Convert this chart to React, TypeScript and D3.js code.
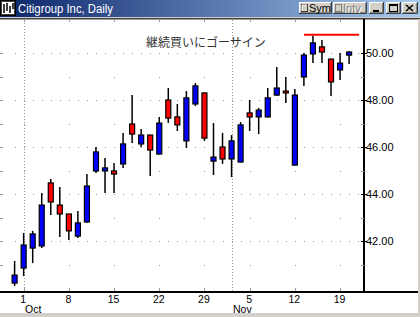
import React from "react";
import * as d3 from "d3";

const openP = [40.21, 40.85, 41.7, 41.79, 44.47, 43.53, 43.15, 42.21, 42.81, 44.98, 44.98, 44.98, 45.28, 46.98, 46.13, 46.51, 45.7, 48.0, 47.28, 46.26, 47.83, 48.3, 45.4, 46.0, 45.49, 45.36, 47.45, 47.28, 47.28, 48.21, 48.38, 45.23, 48.98, 49.96, 50.26, 49.74, 49.28, 49.91];
const highP = [41.15, 42.34, 42.43, 44.04, 44.64, 44.3, 43.15, 43.28, 44.85, 46.0, 45.53, 45.32, 46.6, 48.21, 46.77, 46.51, 47.28, 48.51, 47.83, 48.38, 48.72, 48.32, 47.02, 46.6, 46.51, 47.06, 48.0, 47.66, 48.51, 49.4, 48.98, 48.47, 50.0, 50.72, 50.55, 49.76, 50.0, 50.09];
const lowP = [40.09, 40.51, 41.06, 41.7, 43.11, 42.17, 42.04, 42.13, 42.78, 44.89, 44.04, 44.04, 45.11, 46.17, 46.0, 44.77, 45.68, 47.02, 46.68, 45.96, 47.74, 46.26, 44.81, 45.28, 44.72, 45.34, 46.68, 46.55, 47.26, 48.17, 47.87, 45.21, 48.6, 49.57, 49.57, 48.17, 48.85, 49.53];
const closeP = [40.55, 41.83, 42.3, 43.53, 43.66, 43.15, 42.43, 42.77, 44.34, 45.79, 45.11, 44.85, 46.13, 46.55, 46.51, 45.87, 47.02, 47.23, 46.94, 48.09, 48.6, 46.38, 45.57, 45.49, 46.26, 46.94, 47.28, 47.57, 48.09, 48.51, 48.3, 48.21, 49.91, 50.43, 50.04, 48.77, 49.57, 50.04];

const weekIdx = [1, 6, 11, 16, 21, 26, 31, 36];
const weekLabels = ["1", "8", "15", "22", "29", "5", "12", "19"];
const monthIdx = [1, 24];
const monthLabels = ["Oct", "Nov"];
const yTicks = [42, 44, 46, 48, 50];
const yMinor = [41, 43, 45, 47, 49];
const levelPrice = 50.78;
const levelFrom = 32;
const levelTo = 38.1;

const titleText = "Citigroup Inc, Daily";
const chartTitle = "継続買いにゴーサイン";

const W = 420;
const H = 317;
const plotTop = 19;
const plotBottom = 292;
const axisX = 364;
const FONT = "'Liberation Sans', Arial, sans-serif";

export default function App() {
  const x = d3.scaleLinear().domain([0, 37]).range([14.6, 349.1]);
  const y = d3.scaleLinear().domain([42, 50]).range([241, 53]);
  const allIdx = d3.range(0, 39);
  const gridColor = "#9a9a9a";

  const Button3D = ({ bx, by, bw, bh }: { bx: number; by: number; bw: number; bh: number }) => (
    <g>
      <rect x={bx} y={by} width={bw} height={bh} fill="#d4d0c8" />
      <path d={`M${bx + 0.5},${by + bh} V${by + 0.5} H${bx + bw}`} stroke="#ffffff" fill="none" />
      <path d={`M${bx},${by + bh - 0.5} H${bx + bw - 0.5} V${by}`} stroke="#404040" fill="none" />
      <path d={`M${bx + 1},${by + bh - 1.5} H${bx + bw - 1.5} V${by + 1}`} stroke="#808080" fill="none" />
    </g>
  );

  return (
    <svg width={W} height={H} style={{ position: "absolute", left: 0, top: 0, display: "block" }}>
      <defs>
        <linearGradient id="tb" x1="0" x2="1" y1="0" y2="0">
          <stop offset="0" stopColor="#0a246a" />
          <stop offset="1" stopColor="#a6caf0" />
        </linearGradient>
      </defs>
      <rect x={0} y={0} width={W} height={H} fill="#ffffff" />
      {/* title bar */}
      <rect x={0} y={0} width={W} height={17} fill="url(#tb)" />
      <rect x={0} y={17} width={W} height={1} fill="#d4d0c8" />
      <rect x={0} y={18} width={W} height={1.5} fill="#404040" />
      {/* icon */}
      <rect x={0.5} y={0.5} width={15} height={15} fill="#e8e8e8" stroke="#000" />
      <rect x={1.5} y={1.5} width={13} height={13} fill="#ffffff" stroke="#404040" />
      <path d="M4,4 V13 M7,3 V11 M10,6 V13 M13,3 V9" stroke="#000" strokeWidth={1.5} />
      <text x={18} y={13} fill="#ffffff" fontFamily={FONT} fontSize={12.5} textLength={95} lengthAdjust="spacingAndGlyphs">
        {titleText}
      </text>
      {/* buttons */}
      <Button3D bx={299} by={2} bw={33} bh={12} />
      <rect x={301.5} y={4.5} width={6} height={7} fill="#d4d0c8" stroke="#404040" />
      <path d="M302,11 V5 H307" stroke="#fff" fill="none" />
      <text x={309} y={12} fontFamily={FONT} fontSize={11} fill="#000">Sym</text>
      <Button3D bx={333} by={2} bw={34} bh={12} />
      <rect x={335.5} y={4.5} width={6} height={7} fill="#d4d0c8" stroke="#808080" />
      <text x={344} y={13} fontFamily={FONT} fontSize={11} fill="#ffffff">Intv</text>
      <text x={343} y={12} fontFamily={FONT} fontSize={11} fill="#808080">Intv</text>
      <Button3D bx={369} by={2} bw={15} bh={12} />
      <rect x={373} y={10} width={6} height={2} fill="#000" />
      <Button3D bx={386} by={2} bw={15} bh={12} />
      <rect x={389.5} y={4.5} width={8} height={7} fill="none" stroke="#000" />
      <rect x={389} y={4} width={9} height={2} fill="#000" />
      <Button3D bx={402} by={2} bw={16} bh={12} />
      <path d="M406,5 L413,11 M413,5 L406,11" stroke="#000" strokeWidth={1.6} />

      {/* month dotted lines */}
      {monthIdx.map((m, k) => (
        <line key={"mv" + k} x1={Math.round(x(m)) + 0.5} x2={Math.round(x(m)) + 0.5} y1={plotTop + 1} y2={plotBottom} stroke={gridColor} strokeDasharray="1,2" />
      ))}
      {/* grid rows */}
      {yTicks.map((p) =>
        allIdx.map((i) => (
          <rect key={"g" + p + "-" + i} x={Math.round(x(i))} y={Math.round(y(p))} width={1} height={1} fill={gridColor} />
        ))
      )}
      {yMinor.map((p) =>
        weekIdx.map((i) => (
          <rect key={"gm" + p + "-" + i} x={Math.round(x(i))} y={Math.round(y(p))} width={1} height={1} fill={gridColor} />
        ))
      )}
      {/* left ticks */}
      {[...yTicks, ...yMinor].map((p) => (
        <rect key={"lt" + p} x={0} y={Math.round(y(p))} width={3} height={1} fill={gridColor} />
      ))}
      {/* week ticks top/bottom */}
      {weekIdx.map((i) => (
        <g key={"wt" + i}>
          <rect x={Math.round(x(i))} y={plotTop + 1} width={1} height={2} fill={gridColor} />
          <rect x={Math.round(x(i))} y={plotBottom - 4} width={1} height={3} fill={gridColor} />
        </g>
      ))}

      {/* chart title */}
      <text x={206} y={47} textAnchor="middle" fontFamily="'Noto Sans CJK JP', sans-serif" fontSize={12} fill="#333333">
        {chartTitle}
      </text>

      {/* candles */}
      {openP.map((o, i) => {
        const c = closeP[i];
        const up = c >= o;
        const cx = x(i);
        const top = y(Math.max(o, c));
        const bot = y(Math.min(o, c));
        return (
          <g key={"c" + i}>
            <line x1={cx} x2={cx} y1={y(highP[i])} y2={y(lowP[i])} stroke="#000" strokeWidth={1.5} />
            <rect x={cx - 2.5} y={top} width={5} height={Math.max(bot - top, 1.5)} fill={up ? "#0000ff" : "#ff0000"} stroke="#000" strokeWidth={1.2} />
          </g>
        );
      })}

      {/* resistance line */}
      <line x1={x(levelFrom)} x2={x(levelTo)} y1={y(levelPrice)} y2={y(levelPrice)} stroke="#ff0000" strokeWidth={2} />

      {/* axes */}
      <rect x={axisX - 1} y={plotTop} width={2} height={plotBottom - plotTop} fill="#000" />
      <rect x={0} y={plotBottom - 1} width={418} height={2} fill="#000" />
      {yTicks.map((p) => (
        <g key={"yt" + p}>
          <rect x={axisX - 3} y={Math.round(y(p))} width={6} height={1} fill="#000" />
          <text x={axisX + 2} y={y(p) + 4} fontFamily={FONT} fontSize={11} fill="#000">
            {p.toFixed(2)}
          </text>
        </g>
      ))}
      {yMinor.map((p) => (
        <rect key={"ym" + p} x={axisX - 3} y={Math.round(y(p))} width={3} height={1} fill={gridColor} />
      ))}
      {weekIdx.map((i, k) => (
        <text key={"xl" + k} x={x(i) - 0.5} y={303} textAnchor="middle" fontFamily={FONT} fontSize={10.5} fill="#000">
          {weekLabels[k]}
        </text>
      ))}
      {monthIdx.map((m, k) => (
        <text key={"ml" + k} x={Math.round(x(m)) + 1} y={313} fontFamily={FONT} fontSize={10.5} fill="#000">
          {monthLabels[k]}
        </text>
      ))}

      {/* window borders */}
      <rect x={0} y={313.5} width={W} height={1} fill="#a0a0a0" />
      <rect x={0} y={314.5} width={W} height={3} fill="#d4d0c8" />
      <rect x={418} y={19} width={2} height={H - 19} fill="#d4d0c8" />
    </svg>
  );
}
